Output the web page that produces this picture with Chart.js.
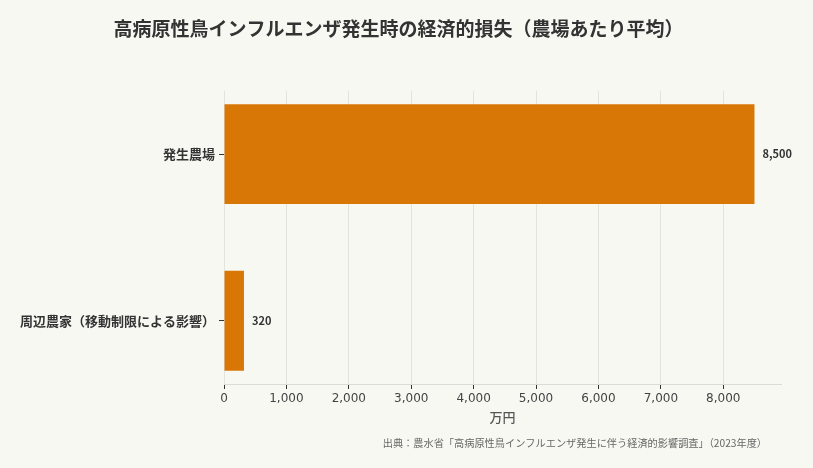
<!DOCTYPE html>
<html lang="ja">
<head>
<meta charset="utf-8">
<script src="https://cdn.jsdelivr.net/npm/chart.js@4/dist/chart.umd.min.js"></script>
<style>
  html, body { margin: 0; padding: 0; background: #f8f8f3; }
  #wrap { width: 813px; height: 468px; position: relative; }
</style>
</head>
<body>
<div id="wrap"><canvas id="chart" width="813" height="468"></canvas></div>
<script>
const categories = [
  '発生農場',
  '周辺農家（移動制限による影響）'
]
const lossValues = [8500, 320]
const xTicks = [0, 1000, 2000, 3000, 4000, 5000, 6000, 7000, 8000]

const chartTitle = '高病原性鳥インフルエンザ発生時の経済的損失（農場あたり平均）'
const xAxisTitle = '万円'
const sourceNote = '出典：農水省「高病原性鳥インフルエンザ発生に伴う経済的影響調査」（2023年度）'

const cjk = "'Noto Sans CJK JP', 'Noto Sans', sans-serif"
const barColor = '#d97706'

// values next to each bar + source line under the axis
const barLabels = {
  id: 'barLabels',
  afterDatasetsDraw(chart) {
    const ctx = chart.ctx
    const meta = chart.getDatasetMeta(0)
    ctx.save()
    ctx.font = `bold 11px ${cjk}`
    ctx.fillStyle = '#333333'
    ctx.textAlign = 'left'
    ctx.textBaseline = 'middle'
    meta.data.forEach((bar, i) => {
      ctx.fillText(lossValues[i].toLocaleString('en-US'), bar.x + 8, bar.y)
    })
    ctx.font = `10.2px ${cjk}`
    ctx.fillStyle = '#666666'
    ctx.textAlign = 'right'
    ctx.fillText(sourceNote, chart.width - 46, 443)
    ctx.restore()
  }
}

const ctx = document.getElementById('chart')

new Chart(ctx, {
  type: 'bar',
  data: {
    datasets: [{
      data: lossValues.map((v, i) => ({ x: v, y: i })),
      backgroundColor: barColor,
      borderWidth: 0,
      barPercentage: 0.6,
      categoryPercentage: 1
    }]
  },
  options: {
    indexAxis: 'y',
    responsive: false,
    animation: false,
    layout: { padding: { left: 16, right: 32, bottom: 43 } },
    plugins: {
      legend: { display: false },
      tooltip: { enabled: false },
      title: {
        display: true,
        text: chartTitle,
        color: '#333333',
        font: { family: cjk, size: 19, weight: 'bold' },
        padding: { top: 17, bottom: 51 }
      }
    },
    scales: {
      x: {
        type: 'linear',
        min: 0,
        max: Math.max(...lossValues) * 1.05,
        afterBuildTicks: (scale) => { scale.ticks = xTicks.map(v => ({ value: v })) },
        ticks: {
          color: '#444444',
          font: { family: "'DejaVu Sans', sans-serif", size: 12 },
          padding: 3,
          callback: (v) => v.toLocaleString('en-US')
        },
        grid: { color: '#e4e4df', tickColor: '#333333', tickLength: 5 },
        border: { color: '#dcdcd6' },
        title: {
          display: true,
          text: xAxisTitle,
          color: '#555555',
          font: { family: cjk, size: 13, weight: '500' },
          padding: { top: 0, bottom: 0 }
        }
      },
      y: {
        type: 'linear',
        reverse: true,
        offset: false,
        min: -0.38,
        max: 1.38,
        afterBuildTicks: (scale) => { scale.ticks = categories.map((_, i) => ({ value: i })) },
        ticks: {
          color: '#333333',
          font: { family: cjk, size: 13, weight: 'bold' },
          padding: 4,
          callback: (v) => categories[v]
        },
        grid: { offset: false, drawOnChartArea: false, tickColor: '#333333', tickLength: 5 },
        border: { display: false }
      }
    }
  },
  plugins: [barLabels]
})
</script>
</body>
</html>
